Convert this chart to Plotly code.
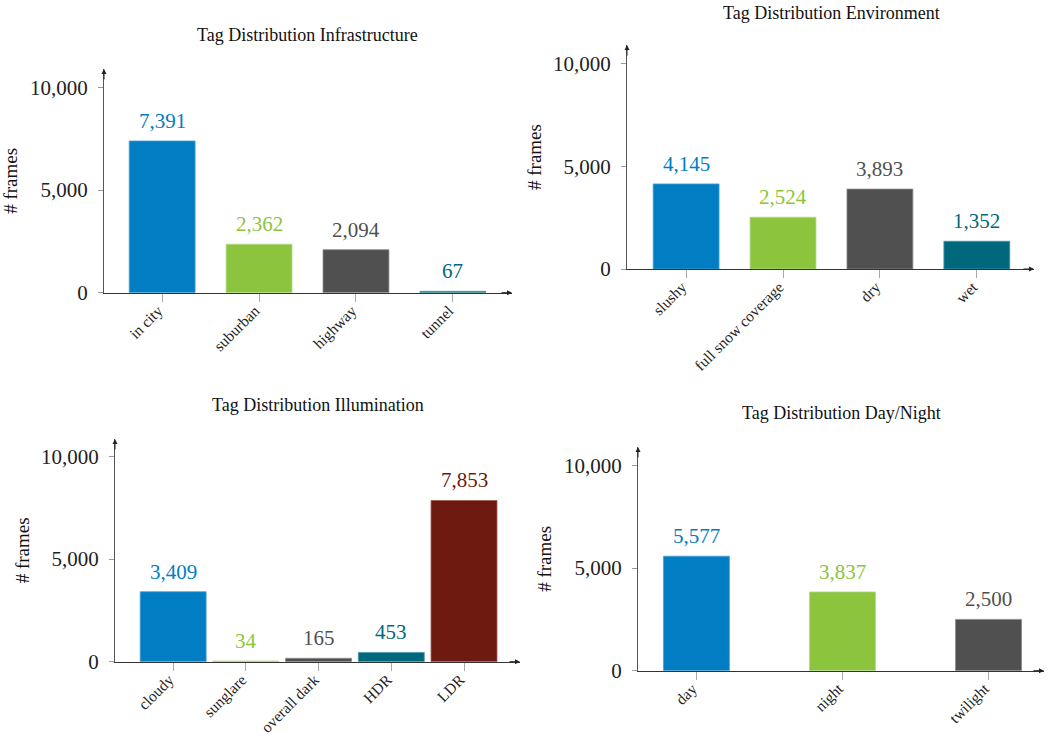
import plotly.graph_objects as go

# ---- data ----
infra_cats = ["in city", "suburban", "highway", "tunnel"]
infra_vals = [7391, 2362, 2094, 67]

env_cats = ["slushy", "full snow coverage", "dry", "wet"]
env_vals = [4145, 2524, 3893, 1352]

illum_cats = ["cloudy", "sunglare", "overall dark", "HDR", "LDR"]
illum_vals = [3409, 34, 165, 453, 7853]

day_cats = ["day", "night", "twilight"]
day_vals = [5577, 3837, 2500]

titles = ["Tag Distribution Infrastructure", "Tag Distribution Environment",
          "Tag Distribution Illumination", "Tag Distribution Day/Night"]
y_title = "# frames"
y_ticks = [0, 5000, 10000]

BLUE = "#007dc3"
GREEN = "#8cc43e"
GRAY = "#505050"
TEAL = "#00687c"
RED = "#6e1a10"
LINE_BLUE = "#4da3d6"
LINE_GREEN = "#b3d98a"
LINE_GRAY = "#8a8a8a"
LINE_TEAL = "#4d95a3"
LINE_RED = "#a05a50"

panels = [
    dict(cats=infra_cats, vals=infra_vals, colors=[BLUE, GREEN, GRAY, TEAL],
         lines=[LINE_BLUE, LINE_GREEN, LINE_GRAY, LINE_TEAL],
         width=0.68, xdom=[104, 512], ytop=69, ybot=292.7, xr=[-0.6, 3.61],
         title_xy=(307, 35)),
    dict(cats=env_cats, vals=env_vals, colors=[BLUE, GREEN, GRAY, TEAL],
         lines=[LINE_BLUE, LINE_GREEN, LINE_GRAY, LINE_TEAL],
         width=0.68, xdom=[627, 1034], ytop=45, ybot=269, xr=[-0.61, 3.59],
         title_xy=(831, 13)),
    dict(cats=illum_cats, vals=illum_vals, colors=[BLUE, GREEN, GRAY, TEAL, RED],
         lines=[LINE_BLUE, LINE_GREEN, LINE_GRAY, LINE_TEAL, LINE_RED],
         width=0.907, xdom=[115, 520], ytop=439, ybot=661.7, xr=[-0.8, 4.77],
         title_xy=(318, 405)),
    dict(cats=day_cats, vals=day_vals, colors=[BLUE, GREEN, GRAY],
         lines=[LINE_BLUE, LINE_GREEN, LINE_GRAY],
         width=0.452, xdom=[638, 1044], ytop=447, ybot=670.7, xr=[-0.40, 2.38],
         title_xy=(841, 413)),
]

W, H = 1056, 738          # reference coordinate frame
FIG_H = 750               # rendered figure height (captured area is squeezed to 738)
PX_PER_10K = 205.3
SERIF = "Liberation Serif"

fig = go.Figure()
annotations = []
layout_axes = {}

for i, p in enumerate(panels):
    n = i + 1
    xa = "x" if n == 1 else f"x{n}"
    ya = "y" if n == 1 else f"y{n}"
    fig.add_trace(go.Bar(
        x=p["cats"], y=p["vals"], xaxis=xa, yaxis=ya,
        width=[p["width"]] * len(p["cats"]),
        marker=dict(color=p["colors"], line=dict(color=p["lines"], width=0.8)),
        showlegend=False, hoverinfo="x+y",
    ))
    ymax = (p["ybot"] - p["ytop"]) / PX_PER_10K * 10000
    layout_axes[f"xaxis{'' if n == 1 else n}"] = dict(
        domain=[p["xdom"][0] / W, p["xdom"][1] / W],
        anchor=ya, range=p["xr"], type="category",
        showline=True, linecolor="#333", linewidth=1,
        ticks="outside", ticklen=8, tickcolor="#aaaaaa", tickwidth=1,
        tickangle=-45, tickfont=dict(family=SERIF, size=15.5, color="#222"),
        ticklabelstandoff=-6, ticklabelshift=-4,
        showgrid=False, zeroline=False, fixedrange=True,
    )
    layout_axes[f"yaxis{'' if n == 1 else n}"] = dict(
        domain=[1 - p["ybot"] / H, 1 - p["ytop"] / H],
        anchor=xa, range=[0, ymax],
        showline=True, linecolor="#555", linewidth=1,
        ticks="outside", ticklen=5, tickcolor="#999999", tickwidth=1,
        tickvals=y_ticks, tickformat=",",
        tickfont=dict(family=SERIF, size=21, color="#222"),
        ticklabelstandoff=6,
        showgrid=False, zeroline=False, fixedrange=True,
    )
    # arrows at the axis ends
    annotations.append(dict(xref=f"{xa} domain", yref=f"{ya} domain", x=0, y=1,
                            ax=0, ay=12, text="", showarrow=True, arrowhead=2,
                            arrowsize=1, arrowwidth=1, arrowcolor="#222"))
    annotations.append(dict(xref=f"{xa} domain", yref=f"{ya} domain", x=1, y=0,
                            ax=-12, ay=0, text="", showarrow=True, arrowhead=2,
                            arrowsize=1, arrowwidth=1, arrowcolor="#222"))
    # value labels above the bars
    for c, v, col in zip(p["cats"], p["vals"], p["colors"]):
        annotations.append(dict(xref=xa, yref=ya, x=c, y=v, text=f"{v:,}",
                                showarrow=False, yanchor="bottom", yshift=6,
                                font=dict(family=SERIF, size=21, color=col)))
    # y-axis title
    annotations.append(dict(xref="paper", yref=f"{ya} domain",
                            x=(p["xdom"][0] - 93) / W, y=0.5, text=y_title,
                            textangle=-90, showarrow=False, xanchor="center",
                            font=dict(family=SERIF, size=19, color="#111")))
    # panel title
    tx, ty = p["title_xy"]
    annotations.append(dict(xref="paper", yref="paper", x=tx / W, y=1 - ty / H,
                            text=titles[i], showarrow=False, xanchor="center",
                            yanchor="middle",
                            font=dict(family=SERIF, size=18, color="#111")))

fig.update_layout(
    width=W, height=FIG_H, margin=dict(l=0, r=0, t=0, b=0),
    paper_bgcolor="white", plot_bgcolor="white",
    annotations=annotations, bargap=0.3,
    **layout_axes,
)

fig.write_html("out.html", config={"displayModeBar": False},
               post_script="document.body.style.margin='0';document.body.style.padding='0';")
